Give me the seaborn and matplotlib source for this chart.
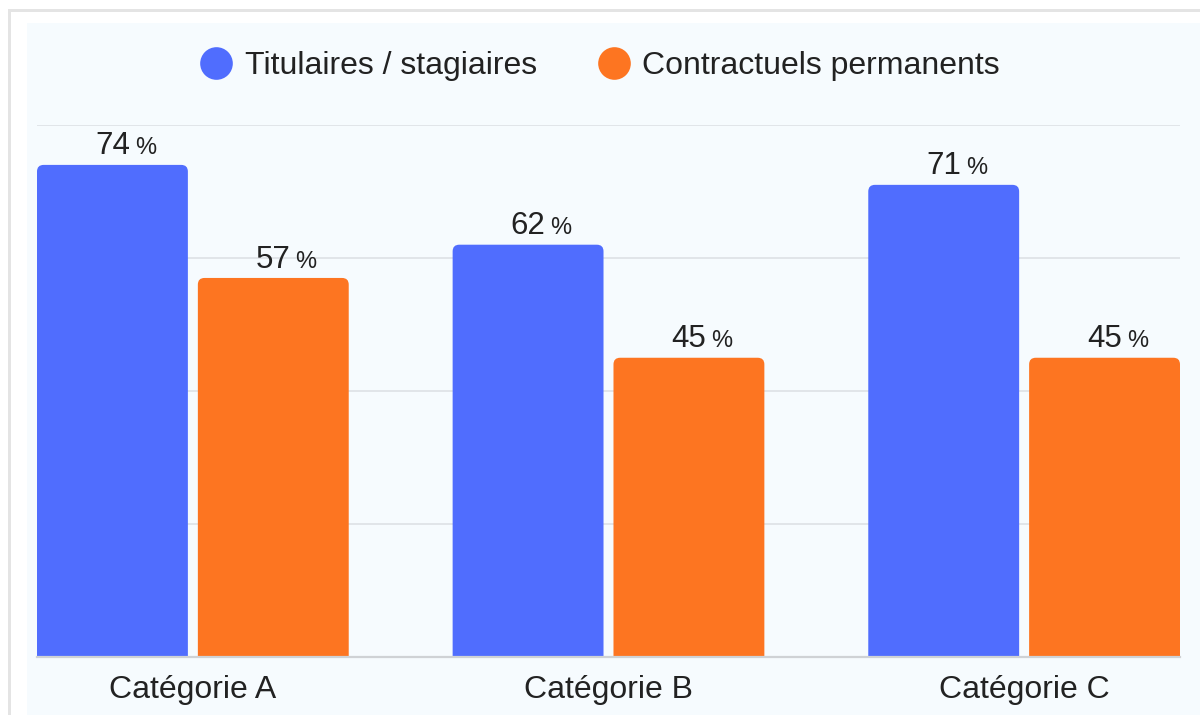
import matplotlib
matplotlib.use("Agg")
import matplotlib.pyplot as plt
from matplotlib.patches import FancyBboxPatch, Rectangle
from matplotlib.lines import Line2D
import seaborn as sns
import pandas as pd

categories = ["Catégorie A", "Catégorie B", "Catégorie C"]
series_names = ["Titulaires / stagiaires", "Contractuels permanents"]
titulaires = [74, 62, 71]
contractuels = [57, 45, 45]
colors = ["#506dfe", "#fd7521"]

df = pd.DataFrame({
    "cat": categories * 2,
    "serie": [series_names[0]] * 3 + [series_names[1]] * 3,
    "val": titulaires + contractuels,
})

sns.set_theme(style="white")
plt.rcParams["font.family"] = ["Liberation Sans", "DejaVu Sans"]

W, H = 1200, 715
fig = plt.figure(figsize=(W / 100, H / 100), dpi=100)
fig.patch.set_facecolor("white")

# frame and panel
fig.patches.append(Rectangle((8 / W, 0), 3 / W, 1 - 9 / H, transform=fig.transFigure,
                             facecolor="#e4e4e4", edgecolor="none", zorder=-10))
fig.patches.append(Rectangle((8 / W, 1 - 12 / H), 1, 3 / H, transform=fig.transFigure,
                             facecolor="#e4e4e4", edgecolor="none", zorder=-10))
fig.patches.append(Rectangle((27 / W, 0), 1, 1 - 23 / H, transform=fig.transFigure,
                             facecolor="#f6fbfe", edgecolor="none", zorder=-9))

ax = fig.add_axes([37 / W, (H - 657) / H, (1180 - 37) / W, (657 - 125) / H])
ax.set_facecolor("none")

sns.barplot(data=df, x="cat", y="val", hue="serie", hue_order=series_names,
            palette=colors, width=0.774, gap=0.062, legend=False, ax=ax,
            saturation=1)

ax.set_ylim(0, 80)
ax.set_xlim(-0.375, 2.375)
ax.set_yticks([0, 20, 40, 60, 80])
ax.yaxis.grid(True, color="#dfe3e7", linewidth=1.3)
ax.set_axisbelow(True)
for s in ["top", "right", "left"]:
    ax.spines[s].set_visible(False)
ax.spines["bottom"].set_color("#cfd2d5")
ax.spines["bottom"].set_linewidth(1.6)
ax.spines["bottom"].set_zorder(5)
ax.tick_params(axis="y", left=False, labelleft=False)
ax.tick_params(axis="x", length=0, pad=13, labelsize=23, labelcolor="#222222")
ax.set_xlabel("")
ax.set_ylabel("")

# rounded-top bars derived from seaborn's bars
bars = list(ax.patches)
for p in bars:
    x, y, w, h = p.get_x(), p.get_y(), p.get_width(), p.get_height()
    fb = FancyBboxPatch((x, y - 3), w, h + 3,
                        boxstyle="round,pad=0,rounding_size=0.016",
                        mutation_aspect=62.5, facecolor=p.get_facecolor(),
                        edgecolor="none", zorder=2)
    ax.add_patch(fb)
    p.set_visible(False)
    ax.annotate(f"{int(round(h))}", xy=(x + w / 2, h), xytext=(0, 7.5),
                textcoords="offset points", ha="center", va="baseline",
                fontsize=22.5, color="#222222")
    ax.annotate("%", xy=(x + w / 2, h), xytext=(16, 7.5),
                textcoords="offset points", ha="left", va="baseline",
                fontsize=17, color="#222222")

handles = [Line2D([], [], marker="o", linestyle="none", markersize=23.5,
                  markerfacecolor=c, markeredgecolor="none") for c in colors]
fig.legend(handles, series_names, loc="center", bbox_to_anchor=(600 / W, 1 - 66 / H),
           ncol=2, frameon=False, fontsize=23, handlelength=1.0,
           handletextpad=0.4, columnspacing=1.9, labelcolor="#222222")

fig.savefig("out.png", dpi=100, facecolor="white")
